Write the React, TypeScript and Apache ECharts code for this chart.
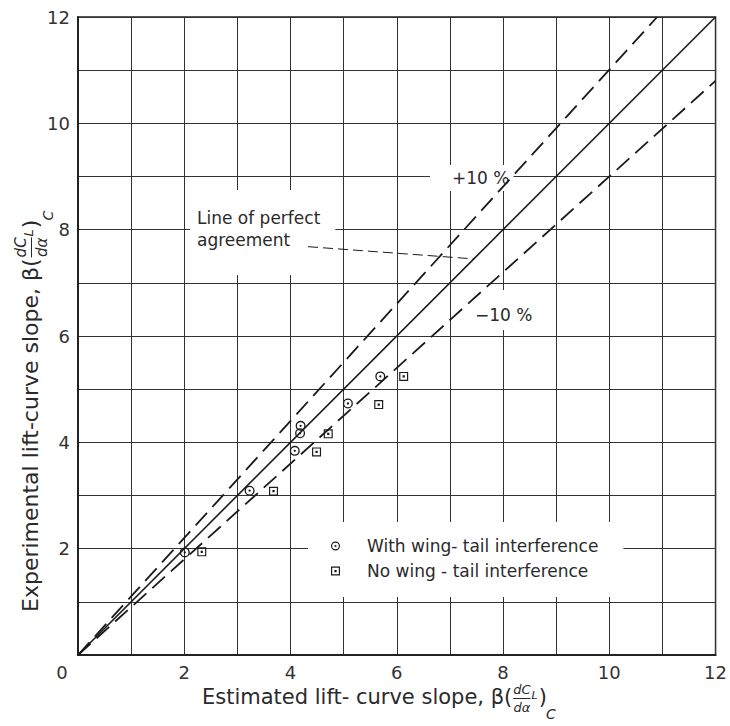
import React, { useEffect, useRef } from "react";
import * as echarts from "echarts";

// ---- data ----
const tickValues = [0, 2, 4, 6, 8, 10, 12];
const perfectX = [0, 12];
const perfectY = [0, 12];
const plusTenX = [0, 10.9];
const plusTenY = [0, 12];
const minusTenX = [0, 12];
const minusTenY = [0, 10.8];
const leaderX = [4.33, 7.45];
const leaderY = [7.68, 7.45];
const withX = [2.01, 3.23, 4.08, 4.18, 4.19, 5.08, 5.69];
const withY = [1.93, 3.09, 3.84, 4.17, 4.31, 4.73, 5.24];
const noX = [2.33, 3.68, 4.49, 4.71, 5.66, 6.13];
const noY = [1.94, 3.08, 3.82, 4.16, 4.71, 5.24];
const seriesNames = ["With wing- tail interference", "No wing - tail interference"];
const xTitle = "Estimated lift- curve slope, \u03B2(";
const yTitle = "Experimental lift-curve slope, \u03B2(";

const FONT = '"DejaVu Sans", sans-serif';
const INK = "#2a2a2a";

const circlePath =
  "path://M10,0 A10,10 0 1,1 10,20 A10,10 0 1,1 10,0 Z " +
  "M10,2.6 A7.4,7.4 0 1,0 10,17.4 A7.4,7.4 0 1,0 10,2.6 Z " +
  "M10,7.7 A2.3,2.3 0 1,1 10,12.3 A2.3,2.3 0 1,1 10,7.7 Z";
const squarePath =
  "path://M0,0 L20,0 L20,20 L0,20 Z M2.6,2.6 L2.6,17.4 L17.4,17.4 L17.4,2.6 Z M7.5,7.5 L12.5,7.5 L12.5,12.5 L7.5,12.5 Z";

function zip(a: number[], b: number[]) {
  return a.map((v, i) => [v, b[i]]);
}

let measureCtx: CanvasRenderingContext2D | null = null;
function measure(text: string, size: number, italic = false) {
  if (!measureCtx) measureCtx = document.createElement("canvas").getContext("2d");
  if (!measureCtx) return text.length * size * 0.6;
  measureCtx.font = `${italic ? "italic " : ""}${size}px "DejaVu Sans"`;
  return measureCtx.measureText(text).width;
}

function txt(text: string, x: number, y: number, size: number, italic = false, align = "left") {
  return {
    type: "text",
    style: {
      text,
      x,
      y,
      fill: INK,
      fontSize: size,
      fontFamily: FONT,
      fontStyle: italic ? "italic" : "normal",
      align,
      textAlign: align,
      verticalAlign: "middle",
      textVerticalAlign: "middle",
    },
  };
}

function titleGroup(
  main: string,
  x: number,
  y: number,
  rotation: number,
  mainSize: number,
  fracSize: number
) {
  const w = measure(main, mainSize);
  const fx = w + 1;
  const fw = Math.max(measure("dC", fracSize, true), measure("d\u03B1", fracSize, true));
  const lx = fx + fw + 1;
  const lSize = Math.round(fracSize * 0.85);
  const lw = measure("L", lSize, true);
  const px = lx + lw + 1;
  const pw = measure(")", mainSize);
  const cx = px + pw - 1;
  const off = fracSize * 0.6;
  return {
    type: "group",
    x,
    y,
    rotation,
    z: 5,
    children: [
      txt(main, 0, 0, mainSize),
      txt("dC", fx + fw / 2, -off, fracSize, true, "center"),
      {
        type: "line",
        shape: { x1: fx, y1: 1.5, x2: fx + fw, y2: 1.5 },
        style: { stroke: INK, lineWidth: 1 },
      },
      txt("d\u03B1", fx + fw / 2, off + 3, fracSize, true, "center"),
      txt("L", lx, -2, lSize, true),
      txt(")", px, 0, mainSize),
      txt("C", cx, mainSize * 0.8, Math.round(mainSize * 0.65), true),
    ],
  };
}

function boxText(text: string, x: number, y: number, size: number, padding: number[]) {
  return {
    type: "text",
    z: 1,
    style: {
      text,
      x,
      y,
      fill: INK,
      fontSize: size,
      fontFamily: FONT,
      lineHeight: 22,
      backgroundColor: "#fff",
      padding,
    },
  };
}

export default function App() {
  const ref = useRef<HTMLDivElement>(null);
  useEffect(() => {
    if (!ref.current) return;
    const chart = echarts.init(ref.current, undefined, { renderer: "svg" });
    const axisCommon = {
      type: "value",
      min: 0,
      max: 12,
      interval: 1,
      axisTick: { show: false },
      axisLine: { show: true, lineStyle: { color: "#222", width: 2 } },
      splitLine: { show: true, lineStyle: { color: "#333", width: 1 } },
    };
    const option: any = {
      animation: false,
      backgroundColor: "#fff",
      grid: {
        left: 78,
        top: 17,
        right: 13,
        bottom: 71,
        show: true,
        borderColor: "#222",
        borderWidth: 1.5,
        backgroundColor: "transparent",
      },
      xAxis: {
        ...axisCommon,
        axisLabel: {
          margin: 8,
          fontSize: 18,
          fontFamily: FONT,
          color: "#333",
          formatter: (v: number) =>
            v === 0 ? "{o|0}" : tickValues.includes(v) ? String(v) : "",
          rich: { o: { padding: [0, 32, 0, 0], fontSize: 18, fontFamily: FONT, color: "#333" } },
        },
      },
      yAxis: {
        ...axisCommon,
        axisLabel: {
          margin: 8,
          fontSize: 18,
          fontFamily: FONT,
          color: "#333",
          formatter: (v: number) => (v !== 0 && tickValues.includes(v) ? String(v) : ""),
        },
      },
      legend: {
        orient: "vertical",
        left: 308,
        top: 522,
        padding: [14, 25, 16, 23],
        backgroundColor: "#fff",
        itemWidth: 9,
        itemHeight: 9,
        itemGap: 5,
        textStyle: {
          fontSize: 17,
          fontFamily: FONT,
          color: INK,
          lineHeight: 20,
          padding: [0, 0, 0, 22],
        },
        data: seriesNames,
      },
      graphic: [
        titleGroup(xTitle, 202, 697, 0, 21, 13),
        titleGroup(yTitle, 30, 612, Math.PI / 2, 22, 15),
        boxText("+10 %", 430, 165, 17, [2, 4, 2, 22]),
        boxText("\u221210 %", 470, 290, 17, [14, 5, 4, 5]),
        boxText("Line of perfect\nagreement", 190, 190, 17, [17, 15, 24, 7]),
      ],
      series: [
        {
          type: "line",
          name: "Line of perfect agreement",
          data: zip(perfectX, perfectY),
          symbol: "none",
          silent: true,
          lineStyle: { color: "#1a1a1a", width: 1.6 },
          z: 3,
        },
        {
          type: "line",
          name: "+10 %",
          data: zip(plusTenX, plusTenY),
          symbol: "none",
          silent: true,
          lineStyle: { color: "#1a1a1a", width: 1.8, type: [17, 8] },
          z: 3,
        },
        {
          type: "line",
          name: "\u221210 %",
          data: zip(minusTenX, minusTenY),
          symbol: "none",
          silent: true,
          lineStyle: { color: "#1a1a1a", width: 1.8, type: [17, 8] },
          z: 3,
        },
        {
          type: "line",
          name: "leader",
          data: zip(leaderX, leaderY),
          symbol: "none",
          silent: true,
          lineStyle: { color: "#1a1a1a", width: 1, type: [10, 5] },
          z: 3,
        },
        {
          type: "scatter",
          name: seriesNames[0],
          data: zip(withX, withY),
          symbol: circlePath,
          symbolSize: 10,
          itemStyle: { color: "#1a1a1a", opacity: 1 },
          z: 4,
        },
        {
          type: "scatter",
          name: seriesNames[1],
          data: zip(noX, noY),
          symbol: squarePath,
          symbolSize: 9,
          itemStyle: { color: "#1a1a1a", opacity: 1 },
          z: 4,
        },
      ],
    };
    chart.setOption(option);
    return () => chart.dispose();
  }, []);
  return (
    <div
      ref={ref}
      style={{ position: "fixed", left: 0, top: 0, width: 730, height: 726, background: "#fff" }}
    />
  );
}
